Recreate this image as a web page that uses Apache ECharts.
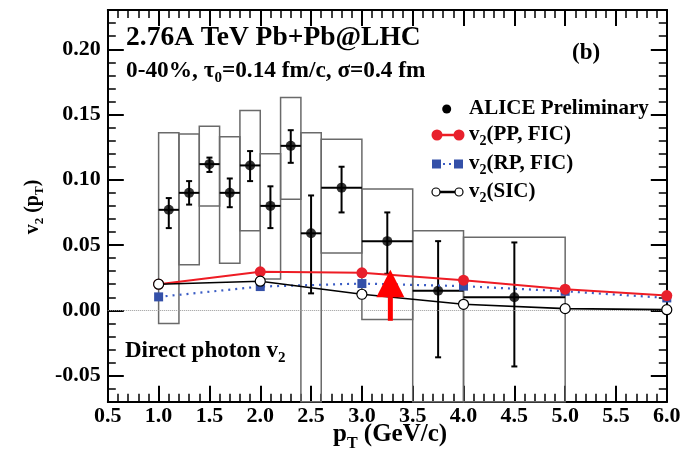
<!DOCTYPE html>
<html><head><meta charset="utf-8">
<script src="https://cdn.jsdelivr.net/npm/echarts@6/dist/echarts.min.js"></script>
<style>html,body{margin:0;padding:0;background:#fff}#c{width:697px;height:453px}</style>
</head><body><div id="c"></div>
<script>
// ---- data ----
const binLo   = [1.0, 1.2, 1.4, 1.6, 1.8, 2.0, 2.2, 2.4, 2.6, 3.0, 3.5, 4.0];
const binHi   = [1.2, 1.4, 1.6, 1.8, 2.0, 2.2, 2.4, 2.6, 3.0, 3.5, 4.0, 5.0];
const alicePt = [1.1, 1.3, 1.5, 1.7, 1.9, 2.1, 2.3, 2.5, 2.8, 3.25, 3.75, 4.5];
const aliceV2 = [0.077, 0.090, 0.112, 0.090, 0.111, 0.080, 0.126, 0.059, 0.094, 0.053, 0.015, 0.010];
const statLo  = [0.063, 0.081, 0.106, 0.079, 0.099, 0.063, 0.113, 0.013, 0.075, 0.028, -0.036, -0.043];
const statHi  = [0.086, 0.099, 0.117, 0.101, 0.122, 0.095, 0.138, 0.088, 0.110, 0.075, 0.053, 0.052];
const sysLo   = [-0.010, 0.035, 0.080, 0.036, 0.061, 0.024, 0.085, -0.08, 0.044, -0.007, -0.08, -0.08];
const sysHi   = [0.136, 0.135, 0.141, 0.133, 0.153, 0.120, 0.163, 0.136, 0.131, 0.093, 0.061, 0.056];
const theoryPt = [1, 2, 3, 4, 5, 6];
const v2PP  = [0.0200, 0.0295, 0.0287, 0.0231, 0.0162, 0.0113];
const v2RP  = [0.0103, 0.0182, 0.0205, 0.0185, 0.0146, 0.0095];
const v2SIC = [0.0200, 0.0223, 0.0123, 0.0046, 0.0013, 0.0005];
const yMajorTicks = [-0.05, 0.00, 0.05, 0.10, 0.15, 0.20];
const arrowPt = [3.28], arrowTip = [0.031], arrowHeadBase = [0.010], arrowTail = [-0.008];

// ---- build ----
const FONT = 'Liberation Serif';
const chart = echarts.init(document.getElementById('c'), null, {renderer: 'canvas'});
const boxData = binLo.map((lo, i) => [lo, binHi[i], sysLo[i], sysHi[i]]);
const errData = alicePt.map((x, i) => [x, aliceV2[i], statLo[i], statHi[i], binLo[i], binHi[i]]);
const arrowData = arrowPt.map((x, i) => [x, arrowTip[i], arrowHeadBase[i], arrowTail[i]]);

function gridRect(params) {
  const c = params.coordSys;
  return {x: c.x, y: c.y, width: c.width, height: c.height};
}

const axisLineStyle = {show: true, onZero: false, lineStyle: {color: '#000', width: 2}};
const majorTick = {show: true, inside: true, length: 16, lineStyle: {color: '#000', width: 2}};
const minorTickS = {show: true, inside: true, length: 8, lineStyle: {color: '#000', width: 1.5}};
const labelStyle = {fontFamily: FONT, fontWeight: 'bold', fontSize: 22, color: '#000'};

function xAx(pos, showLabel) {
  return {
    type: 'value', min: 0.5, max: 6, interval: 0.5, position: pos,
    axisLine: axisLineStyle, axisTick: majorTick,
    minorTick: {show: true, splitNumber: 5, length: 8, lineStyle: {color: '#000', width: 1.5}},
    splitLine: {show: false}, minorSplitLine: {show: false},
    axisLabel: Object.assign({show: showLabel, margin: 4, showMinLabel: true, showMaxLabel: true,
      formatter: v => v.toFixed(1)}, labelStyle)
  };
}
function yMinor(pos) {
  return {type: 'value', min: -0.07, max: 0.23, interval: 0.01, position: pos,
    axisLine: axisLineStyle, axisTick: minorTickS, axisLabel: {show: false},
    splitLine: {show: false}};
}
function yMajor(pos, showLabel) {
  return {type: 'value', min: -0.07, max: 0.23, position: pos,
    axisLine: axisLineStyle,
    axisTick: Object.assign({customValues: yMajorTicks}, majorTick),
    axisLabel: Object.assign({show: showLabel, customValues: yMajorTicks, margin: 7,
      formatter: v => v.toFixed(2)}, labelStyle),
    splitLine: {show: false}};
}

function rich(size, sub) {
  return {
    m: {fontFamily: FONT, fontWeight: 'bold', fontSize: size, lineHeight: Math.round(size * 1.3), color: '#000'},
    s: {fontFamily: FONT, fontWeight: 'bold', fontSize: sub, lineHeight: sub, verticalAlign: 'bottom', color: '#000'}
  };
}
function txt(x, y, text, size, sub, extra) {
  return Object.assign({type: 'text', x: x, y: y, silent: true,
    style: {text: text, rich: rich(size, sub), verticalAlign: 'middle', align: 'left'}}, extra || {});
}

const legX = 469;
const option = {
  animation: false,
  backgroundColor: '#fff',
  grid: {left: 107.8, right: 30.2, top: 10.1, bottom: 51.3, containLabel: false},
  xAxis: [xAx('bottom', true), xAx('top', false)],
  yAxis: [yMinor('left'), yMajor('left', true), yMinor('right'), yMajor('right', false)],
  series: [
    {
      name: 'sys', type: 'custom', data: boxData, z: 2,
      renderItem: function (params, api) {
        const p1 = api.coord([api.value(0), api.value(3)]);
        const p2 = api.coord([api.value(1), api.value(2)]);
        const r = echarts.graphic.clipRectByRect(
          {x: p1[0], y: p1[1], width: p2[0] - p1[0], height: p2[1] - p1[1]}, gridRect(params));
        if (!r) return;
        return {type: 'rect', shape: r, style: {fill: 'none', stroke: '#6a6a6a', lineWidth: 1.5}};
      },
      markLine: {silent: true, symbol: 'none', label: {show: false},
        lineStyle: {type: 'dotted', color: '#999', width: 1}, data: [{yAxis: 0}]}
    },
    {
      name: 'stat', type: 'custom', data: errData, z: 3,
      renderItem: function (params, api) {
        const c = api.coord([api.value(0), api.value(1)]);
        const lo = api.coord([api.value(0), api.value(2)]);
        const hi = api.coord([api.value(0), api.value(3)]);
        const xl = api.coord([api.value(4), api.value(1)]);
        const xh = api.coord([api.value(5), api.value(1)]);
        const st = {stroke: '#000', lineWidth: 2};
        return {type: 'group', children: [
          {type: 'line', shape: {x1: c[0], y1: lo[1], x2: c[0], y2: hi[1]}, style: st},
          {type: 'line', shape: {x1: c[0] - 3, y1: lo[1], x2: c[0] + 3, y2: lo[1]}, style: st},
          {type: 'line', shape: {x1: c[0] - 3, y1: hi[1], x2: c[0] + 3, y2: hi[1]}, style: st},
          {type: 'line', shape: {x1: xl[0], y1: c[1], x2: xh[0], y2: c[1]}, style: st}
        ]};
      }
    },
    {
      name: 'ALICE Preliminary', type: 'scatter', z: 4,
      data: alicePt.map((x, i) => [x, aliceV2[i]]),
      symbol: 'circle', symbolSize: 10, itemStyle: {color: '#000'}
    },
    {
      name: 'v2(RP, FIC)', type: 'line', z: 5,
      data: theoryPt.map((x, i) => [x, v2RP[i]]),
      symbol: 'rect', symbolSize: 9, itemStyle: {color: '#3450a8'},
      lineStyle: {color: '#3a5cc4', width: 2.2, type: [2, 5]}
    },
    {
      name: 'v2(PP, FIC)', type: 'line', z: 6,
      data: theoryPt.map((x, i) => [x, v2PP[i]]),
      symbol: 'circle', symbolSize: 11, itemStyle: {color: '#e8202c'},
      lineStyle: {color: '#ee1c24', width: 2}
    },
    {
      name: 'v2(SIC)', type: 'line', z: 7,
      data: theoryPt.map((x, i) => [x, v2SIC[i]]),
      symbol: 'circle', symbolSize: 10, itemStyle: {color: '#fff', borderColor: '#000', borderWidth: 1.2},
      lineStyle: {color: '#000', width: 1.6}
    },
    {
      name: 'arrow', type: 'custom', data: arrowData, z: 8,
      renderItem: function (params, api) {
        const tip = api.coord([api.value(0), api.value(1)]);
        const base = api.coord([api.value(0), api.value(2)]);
        const tail = api.coord([api.value(0), api.value(3)]);
        return {type: 'group', children: [
          {type: 'polygon', shape: {points: [[tip[0], tip[1]], [tip[0] - 14, base[1]], [tip[0] + 14, base[1]]]},
            style: {fill: '#ff0000'}},
          {type: 'rect', shape: {x: tip[0] - 2.5, y: base[1] - 1, width: 5, height: tail[1] - base[1] + 1},
            style: {fill: '#ff0000'}}
        ]};
      }
    }
  ],
  graphic: [
    txt(126, 38, '{m|2.76A TeV Pb+Pb@LHC}', 27.5, 17),
    txt(126, 71, '{m|0-40%, τ}{s|0}{m|=0.14 fm/c, σ=0.4 fm}', 23.3, 15),
    txt(572, 53, '{m|(b)}', 23, 14),
    txt(125, 351, '{m|Direct photon v}{s|2}', 23, 15),
    txt(333, 435, '{m|p}{s|T}{m| (GeV/c)}', 25, 16),
    txt(33, 207, '', 20, 13, {rotation: Math.PI / 2, style: {
      text: '{m|v}{s|2}{m| (p}{s|T}{m|)}', rich: rich(20, 13), verticalAlign: 'middle', align: 'center'}}),
    // legend
    {type: 'circle', shape: {cx: 446.7, cy: 109, r: 4.5}, style: {fill: '#000'}},
    txt(legX, 109, '{m|ALICE Preliminary}', 21, 14),
    {type: 'line', shape: {x1: 437, y1: 135, x2: 459, y2: 135}, style: {stroke: '#ee1c24', lineWidth: 2.5}},
    {type: 'circle', shape: {cx: 437, cy: 135, r: 5.5}, style: {fill: '#e8202c'}},
    {type: 'circle', shape: {cx: 459, cy: 135, r: 5.5}, style: {fill: '#e8202c'}},
    txt(legX, 135, '{m|v}{s|2}{m|(PP, FIC)}', 21, 14),
    {type: 'line', shape: {x1: 437, y1: 164, x2: 459, y2: 164}, style: {stroke: '#3a5cc4', lineWidth: 2, lineDash: [2, 4]}},
    {type: 'rect', shape: {x: 432, y: 159.5, width: 9, height: 9}, style: {fill: '#3450a8'}},
    {type: 'rect', shape: {x: 454, y: 159.5, width: 9, height: 9}, style: {fill: '#3450a8'}},
    txt(legX, 164, '{m|v}{s|2}{m|(RP, FIC)}', 21, 14),
    {type: 'line', shape: {x1: 437, y1: 192, x2: 459, y2: 192}, style: {stroke: '#000', lineWidth: 2.5}},
    {type: 'circle', shape: {cx: 436, cy: 192, r: 4}, style: {fill: '#fff', stroke: '#000', lineWidth: 1.2}},
    {type: 'circle', shape: {cx: 459, cy: 192, r: 4}, style: {fill: '#fff', stroke: '#000', lineWidth: 1.2}},
    txt(legX, 192, '{m|v}{s|2}{m|(SIC)}', 21, 14)
  ]
};
chart.setOption(option);
</script>
</body></html>
